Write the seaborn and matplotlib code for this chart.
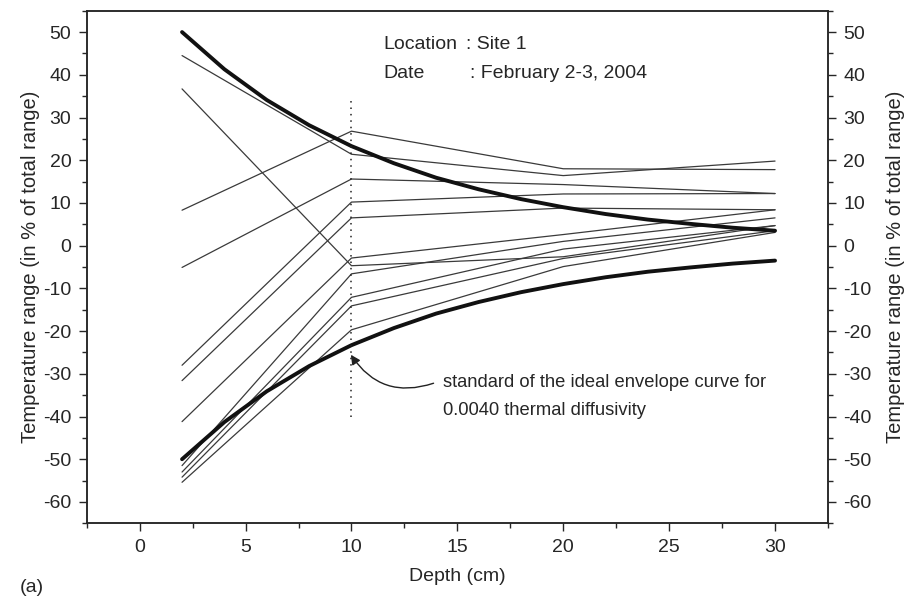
import matplotlib
matplotlib.use("Agg")
import matplotlib.pyplot as plt
from matplotlib.ticker import MultipleLocator
import seaborn as sns
import pandas as pd

# ---------------- data ----------------
depths = [2, 10, 20, 30]
profile_01 = [8.3, 26.8, 18.0, 17.8]
profile_02 = [44.5, 21.4, 16.4, 19.8]
profile_03 = [-5.1, 15.6, 14.3, 12.2]
profile_04 = [-28.0, 10.2, 12.1, 12.2]
profile_05 = [-31.6, 6.5, 8.8, 8.4]
profile_06 = [-41.2, -2.9, 2.6, 8.4]
profile_07 = [36.7, -4.7, -2.6, 4.7]
profile_08 = [-51.5, -6.6, 1.0, 6.5]
profile_09 = [-53.0, -12.1, -0.8, 4.7]
profile_10 = [-54.2, -14.1, -3.0, 3.5]
profile_11 = [-55.4, -19.7, -4.9, 3.1]
profiles = [profile_01, profile_02, profile_03, profile_04, profile_05,
            profile_06, profile_07, profile_08, profile_09, profile_10,
            profile_11]

env_depth = [2, 4, 6, 8, 10, 12, 14, 16, 18, 20, 22, 24, 26, 28, 30]
env_upper = [50.0, 41.3, 34.1, 28.2, 23.3, 19.3, 15.9, 13.2, 10.9, 9.0,
             7.4, 6.1, 5.1, 4.2, 3.5]
env_lower = [-50.0, -41.3, -34.1, -28.2, -23.3, -19.3, -15.9, -13.2, -10.9,
             -9.0, -7.4, -6.1, -5.1, -4.2, -3.5]

marker_depth = [10, 10]
marker_range = [-40, 34]

x_ticks = [0, 5, 10, 15, 20, 25, 30]
y_ticks = [-60, -50, -40, -30, -20, -10, 0, 10, 20, 30, 40, 50]

# ---------------- tables ----------------
rows = []
for i, prof in enumerate(profiles):
    for d, v in zip(depths, prof):
        rows.append({"profile": i, "depth": d, "value": v})
df_prof = pd.DataFrame(rows)

env_rows = []
for d, v in zip(env_depth, env_upper):
    env_rows.append({"curve": "upper", "depth": d, "value": v})
for d, v in zip(env_depth, env_lower):
    env_rows.append({"curve": "lower", "depth": d, "value": v})
df_env = pd.DataFrame(env_rows)

# ---------------- style ----------------
sns.set_style("ticks")
plt.rcParams["font.family"] = ["Liberation Sans", "DejaVu Sans"]
plt.rcParams["axes.linewidth"] = 1.1
plt.rcParams["axes.unicode_minus"] = False

fig = plt.figure(figsize=(9.14, 5.96), dpi=100)
ax = fig.add_axes([0.0949, 0.122, 0.811, 0.860])

sns.lineplot(data=df_prof, x="depth", y="value", units="profile",
             estimator=None, color="#3a3a3a", linewidth=0.9, ax=ax,
             legend=False)
sns.lineplot(data=df_env, x="depth", y="value", units="curve",
             estimator=None, color="#111111", linewidth=2.8, ax=ax,
             legend=False, sort=False)

ax.plot(marker_depth, marker_range, linestyle=(0, (1, 3.2)),
        color="#222222", linewidth=1.1)

ax.set_xlim(-2.5, 32.5)
ax.set_ylim(-65, 55)
ax.set_xticks(x_ticks)
ax.set_yticks(y_ticks)
ax.xaxis.set_minor_locator(MultipleLocator(2.5))
ax.yaxis.set_minor_locator(MultipleLocator(5))
ax.tick_params(which="major", direction="out", length=6, width=1.0,
               labelsize=14, pad=5, top=False, right=False)
ax.tick_params(which="minor", direction="out", length=3.5, width=1.0,
               top=False, right=False)
for s in ["top", "right", "left", "bottom"]:
    ax.spines[s].set_visible(True)
    ax.spines[s].set_linewidth(1.1)

ax.set_xlabel("Depth (cm)", fontsize=14, labelpad=9)
ax.set_ylabel("Temperature range (in % of total range)", fontsize=14.5,
              labelpad=2)

ax2 = ax.twinx()
ax2.set_ylim(-65, 55)
ax2.set_yticks(y_ticks)
ax2.yaxis.set_minor_locator(MultipleLocator(5))
ax2.tick_params(which="major", direction="out", length=6, width=1.0,
                labelsize=14, pad=5)
ax2.tick_params(which="minor", direction="out", length=3.5, width=1.0)
ax2.set_ylabel("Temperature range (in % of total range)", fontsize=14.5,
               labelpad=10)
ax2.spines["right"].set_linewidth(1.1)

# ---------------- texts ----------------
ax.text(11.5, 47.2, "Location", fontsize=14, va="center", ha="left")
ax.text(15.4, 47.2, ": Site 1", fontsize=14, va="center", ha="left")
ax.text(11.5, 40.3, "Date", fontsize=14, va="center", ha="left")
ax.text(15.6, 40.3, ": February 2-3, 2004", fontsize=14, va="center",
        ha="left")

ax.text(14.3, -32.0, "standard of the ideal envelope curve for",
        fontsize=13.2, va="center", ha="left")
ax.text(14.3, -38.5, "0.0040 thermal diffusivity", fontsize=13.2,
        va="center", ha="left")
ax.annotate("", xy=(9.9, -25.0), xytext=(14.0, -32.0),
            arrowprops=dict(arrowstyle="-|>", color="#222222", lw=1.0,
                            mutation_scale=14,
                            connectionstyle="arc3,rad=-0.4"))

fig.text(0.022, 0.0, "(a)", fontsize=14, va="bottom", ha="left")

fig.savefig("out.png", dpi=100)
